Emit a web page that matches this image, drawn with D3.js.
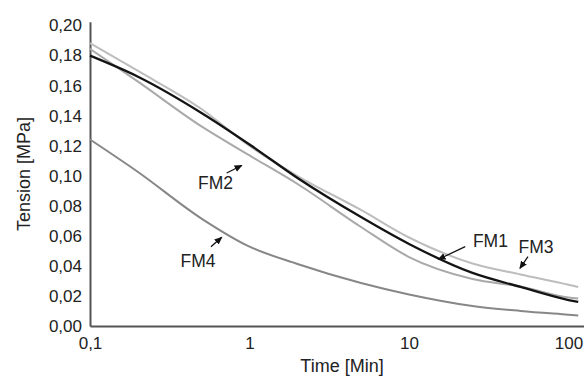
<!DOCTYPE html>
<html>
<head>
<meta charset="utf-8">
<script src="https://cdn.jsdelivr.net/npm/d3@7"></script>
<style>
	html, body { margin: 0; padding: 0; background: #fff; }
	svg { display: block; font-family: "Liberation Sans", Arial, Helvetica, sans-serif; }
</style>
</head>
<body>
<svg id="chart" width="584" height="376"></svg>
<script>
// sample times in minutes
var times = [0.1, 0.2, 0.5, 1, 2, 5, 10, 25, 50, 100, 115]

// tension in MPa for each mix, same order as times
var fm1 = [0.1799, 0.1659, 0.1418, 0.1208, 0.0985, 0.0725, 0.0546, 0.0353, 0.0260, 0.0173, 0.0160]
var fm2 = [0.1844, 0.1626, 0.1328, 0.1135, 0.0945, 0.0659, 0.0459, 0.0313, 0.0263, 0.0190, 0.0183]
var fm3 = [0.1882, 0.1697, 0.1444, 0.1198, 0.0998, 0.0772, 0.0589, 0.0416, 0.0343, 0.0275, 0.0260]
var fm4 = [0.1241, 0.1025, 0.0715, 0.0528, 0.0413, 0.0286, 0.0210, 0.0133, 0.0100, 0.0075, 0.0070]

var seriesNames = ["FM1", "FM2", "FM3", "FM4"]

// where each label arrow points to (data coords)
var arrowTipTime = [15.3, 0.893, 49.6, 0.669]
var arrowTipValue = [0.0444, 0.1068, 0.0384, 0.059]

var yTicks = [0, 0.02, 0.04, 0.06, 0.08, 0.10, 0.12, 0.14, 0.16, 0.18, 0.20]
var xTicks = [0.1, 1, 10, 100]
var xTickLabels = ["0,1", "1", "10", "100"]

var svg = d3.select('#chart')

var x = d3.scaleLog()
	.domain([0.1, 125])
	.range([90, 584])

var y = d3.scaleLinear()
	.domain([0, 0.2025])
	.range([326, 21.7])

var comma = d3.formatLocale({decimal: ",", thousands: ".", grouping: [3], currency: ["", ""]}).format(".2f")

// styles per series
var lineColor = {FM1: "#141414", FM2: "#a9a9a9", FM3: "#bdbdbd", FM4: "#878787"}
var lineWidth = {FM1: 2.3, FM2: 2, FM3: 2, FM4: 2}

// label placement relative to arrow tip, in px: [tailDx, tailDy, textDx, textDy]
var labelOffset = {
	FM1: [26.7, -12.6, 34.4, -12.3],
	FM2: [-15, 7.5, -43.7, 23.8],
	FM3: [8, -11.6, -1.5, -15],
	FM4: [-10.7, 9.4, -41.2, 29.7]
}

var series = [
	{name: "FM4", values: fm4},
	{name: "FM2", values: fm2},
	{name: "FM3", values: fm3},
	{name: "FM1", values: fm1}
]

// axes
var yAxis = svg.append('g')
	.attr('transform', 'translate(90,0)')
	.call(d3.axisLeft(y).tickValues(yTicks).tickSize(0).tickSizeOuter(0).tickPadding(8).tickFormat(comma))

var xAxis = svg.append('g')
	.attr('transform', 'translate(0,326)')
	.call(d3.axisBottom(x).tickValues(xTicks).tickSize(0).tickSizeOuter(0).tickPadding(11)
		.tickFormat(function(d, i) { return xTickLabels[i] }))

svg.selectAll('.domain')
	.attr('stroke', '#555')
	.attr('stroke-width', 2)

svg.selectAll('.tick text')
	.attr('fill', '#222')
	.style('font-size', '17px')

// axis titles
svg.append('text')
	.attr('x', 342)
	.attr('y', 372)
	.attr('text-anchor', 'middle')
	.attr('fill', '#222')
	.style('font-size', '18px')
	.text('Time [Min]')

svg.append('text')
	.attr('transform', 'translate(30,174) rotate(-90)')
	.attr('text-anchor', 'middle')
	.attr('fill', '#222')
	.style('font-size', '18px')
	.text('Tension [MPa]')

// curves
var line = d3.line()
	.x(function(d, i) { return x(times[i]) })
	.y(function(d) { return y(d) })
	.curve(d3.curveMonotoneX)

svg.append('g')
	.selectAll('path')
	.data(series)
	.join('path')
		.attr('d', function(d) { return line(d.values) })
		.attr('fill', 'none')
		.attr('stroke', function(d) { return lineColor[d.name] })
		.attr('stroke-width', function(d) { return lineWidth[d.name] })
		.attr('stroke-linejoin', 'round')

// arrow head marker
svg.append('defs').append('marker')
	.attr('id', 'head')
	.attr('markerUnits', 'userSpaceOnUse')
	.attr('markerWidth', 9)
	.attr('markerHeight', 8)
	.attr('refX', 7)
	.attr('refY', 4)
	.attr('orient', 'auto')
	.append('path')
		.attr('d', 'M0,0.6L8,4L0,7.4Z')
		.attr('fill', '#111')

var labels = svg.append('g')
	.selectAll('g')
	.data(seriesNames)
	.join('g')

labels.append('line')
	.attr('x1', function(d, i) { return x(arrowTipTime[i]) + labelOffset[d][0] })
	.attr('y1', function(d, i) { return y(arrowTipValue[i]) + labelOffset[d][1] })
	.attr('x2', function(d, i) { return x(arrowTipTime[i]) })
	.attr('y2', function(d, i) { return y(arrowTipValue[i]) })
	.attr('stroke', '#111')
	.attr('stroke-width', 1.3)
	.attr('marker-end', 'url(#head)')

labels.append('text')
	.attr('x', function(d, i) { return x(arrowTipTime[i]) + labelOffset[d][2] })
	.attr('y', function(d, i) { return y(arrowTipValue[i]) + labelOffset[d][3] })
	.attr('fill', '#222')
	.style('font-size', '17.5px')
	.text(function(d) { return d })
</script>
</body>
</html>
